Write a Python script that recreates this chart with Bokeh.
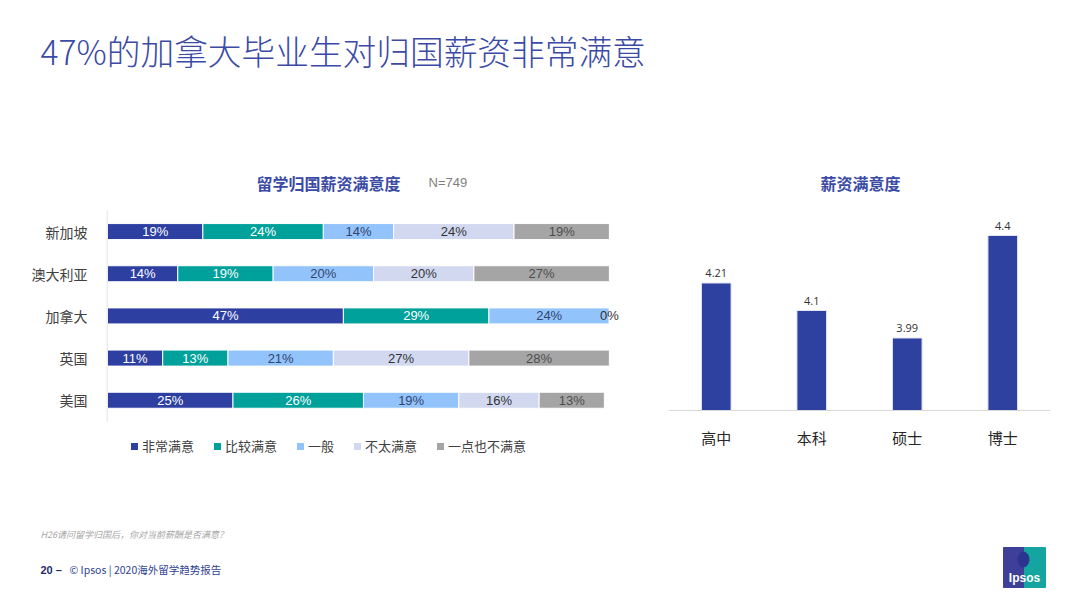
from bokeh.plotting import figure
from bokeh.models import Range1d, FactorRange, ColumnDataSource, Legend, LegendItem, Span
from bokeh.layouts import column, row
from bokeh.embed import file_html
from bokeh.resources import INLINE
from bokeh.core.properties import value

# ---------------- data ----------------
title_text = "47%的加拿大毕业生对归国薪资非常满意"
left_title = "留学归国薪资满意度"
sample_note = "N=749"
right_title = "薪资满意度"

countries = ["新加坡", "澳大利亚", "加拿大", "英国", "美国"]
levels_sat = ["非常满意", "比较满意", "一般", "不太满意", "一点也不满意"]
very_satisfied = [19, 14, 47, 11, 25]
fairly_satisfied = [24, 19, 29, 13, 26]
neutral = [14, 20, 24, 21, 19]
not_very = [24, 20, 0, 27, 16]
not_at_all = [19, 27, 0, 28, 13]

degrees = ["高中", "本科", "硕士", "博士"]
degree_scores = [4.21, 4.1, 3.99, 4.4]
score_base = 3.7
score_top = 4.5

footnote = "H26请问留学归国后，你对当前薪酬是否满意？"
footer_page = "20"
footer_text = "© Ipsos | 2020海外留学趋势报告"

# ---------------- styles ----------------
CJK = "Noto Sans CJK SC"
CJK_LIGHT = "Noto Sans CJK SC Light, Noto Sans CJK SC"
NUM = "Liberation Sans"
BLUE_TITLE = "#3B4BA5"
seg_colors = ["#2E3FA2", "#00A09B", "#92C3FA", "#D1D8F0", "#A5A5A5"]
seg_text_colors = ["white", "white", "#34446E", "#333333", "#4D4D4D"]

W = 1076
ROW_H = 270
TOP_B = 10
BOT_B = 7
FRAME_H = ROW_H - TOP_B - BOT_B   # 253


def blank(w, h):
    f = figure(width=w, height=h, x_range=Range1d(0, w), y_range=Range1d(h, 0),
               output_backend="svg", toolbar_location=None, min_border=0)
    f.axis.visible = False
    f.grid.visible = False
    f.outline_line_color = None
    return f


# ---------------- header ----------------
header = blank(W, 200)
header.text(x=[40], y=[50], text=[title_text], text_font=value(CJK_LIGHT), text_font_size="33.7px",
            text_color=BLUE_TITLE, text_baseline="middle", text_align="left")
header.text(x=[328], y=[182], text=[left_title], text_font=value(CJK), text_font_size="16px",
            text_font_style="bold", text_color=BLUE_TITLE, text_baseline="middle", text_align="center")
header.text(x=[428], y=[182], text=[sample_note], text_font=value(NUM), text_font_size="13px",
            text_color="#7F7F7F", text_baseline="middle", text_align="left")
header.text(x=[860], y=[182], text=[right_title], text_font=value(CJK), text_font_size="16px",
            text_font_style="bold", text_color=BLUE_TITLE, text_baseline="middle", text_align="center")

# ---------------- left stacked bar chart ----------------
src = ColumnDataSource(data={
    "country": countries,
    levels_sat[0]: very_satisfied,
    levels_sat[1]: fairly_satisfied,
    levels_sat[2]: neutral,
    levels_sat[3]: not_very,
    levels_sat[4]: not_at_all,
})

# one blank band below the countries holds the legend
pad_factor = [" "]
left = figure(width=640, height=ROW_H, y_range=FactorRange(factors=pad_factor + countries[::-1]),
              x_range=Range1d(-0.2, 106), output_backend="svg", toolbar_location=None,
              min_border_left=106, min_border_right=1, min_border_top=TOP_B, min_border_bottom=BOT_B)
rends = left.hbar_stack(levels_sat, y="country", height=0.38, color=seg_colors, source=src,
                        line_color="white", line_width=1)

series = [very_satisfied, fairly_satisfied, neutral, not_very, not_at_all]
lx, ly, lt, lc = [], [], [], []
for i, c in enumerate(countries):
    edge = 0
    zero_done = False
    for s, tc in zip(series, seg_text_colors):
        v = s[i]
        if v > 0 or not zero_done:
            lx.append(edge + v / 2)
            ly.append(c)
            lt.append(f"{v}%")
            lc.append(tc if v > 0 else "#333333")
            if v == 0:
                zero_done = True
        edge += v
left.text(x="x", y="y", text="t", text_color="c",
          source=ColumnDataSource(data={"x": lx, "y": ly, "t": lt, "c": lc}),
          text_align="center", text_baseline="middle", text_font_size="13px",
          text_font=value(NUM))

# category axis line, spanning only the country bands
left.segment(x0=[-0.1], x1=[-0.1], y0=[len(pad_factor)], y1=[len(pad_factor) + len(countries)],
             line_color="#D9D9D9", line_width=1)

left.xaxis.visible = False
left.grid.visible = False
left.outline_line_color = None
left.yaxis.axis_line_color = None
left.yaxis.major_tick_line_color = None
left.yaxis.minor_tick_line_color = None
left.yaxis.major_label_standoff = 13
left.yaxis.major_label_text_font = CJK
left.yaxis.major_label_text_font_size = "14px"
left.yaxis.major_label_text_color = "#404040"

legend = Legend(items=[LegendItem(label=l, renderers=[r]) for l, r in zip(levels_sat, rends)],
                location=(23, 8), orientation="horizontal", glyph_width=10, glyph_height=10,
                label_standoff=3, spacing=18, padding=0, margin=0, border_line_color=None,
                background_fill_alpha=0, label_text_font_size="13px", label_text_font=CJK,
                label_text_color="#404040", label_height=14)
left.add_layout(legend, "center")

# ---------------- right bar chart ----------------
px_per_unit = 250.0   # baseline-to-top spacing: 200 px for 0.8 units
right = figure(width=W - 640, height=ROW_H, x_range=FactorRange(factors=degrees),
               y_range=Range1d(score_base - (FRAME_H - 200) / px_per_unit, score_top),
               output_backend="svg", toolbar_location=None,
               min_border_left=28, min_border_right=W - 640 - 28 - 382,
               min_border_top=TOP_B, min_border_bottom=BOT_B)
right.vbar(x=degrees, top=degree_scores, bottom=score_base, width=0.31, color="#2E40A0",
           line_color="#E0E4F4")
right.text(x=degrees, y=degree_scores, text=[str(v) for v in degree_scores],
           text_align="center", text_baseline="bottom", y_offset=-6, text_font_size="11px",
           text_font=value("Open Sans"), text_color="#333333")
# category baseline and labels
right.add_layout(Span(location=score_base, dimension="width", line_color="#D9D9D9", line_width=1))
right.text(x=degrees, y=[score_base] * len(degrees), text=degrees, text_align="center",
           text_baseline="middle", y_offset=27, text_font_size="15px", text_font=value(CJK),
           text_color="#262626")
right.axis.visible = False
right.grid.visible = False
right.outline_line_color = None

# ---------------- footer ----------------
footer = blank(W, 128)
footer.text(x=[40], y=[64], text=[footnote], text_font=value(CJK), text_font_size="9px",
            text_font_style="italic", text_color="#A6A6A6", text_baseline="middle")
footer.text(x=[40], y=[99], text=[footer_page + " –"], text_font=value(NUM), text_font_size="11px",
            text_font_style="bold", text_color="#1F2A6B", text_baseline="middle")
footer.text(x=[69], y=[99], text=[footer_text], text_font=value(CJK), text_font_size="10.5px",
            text_color="#2F3F8F", text_baseline="middle")
# logo
footer.quad(left=[1003], right=[1024], top=[77], bottom=[117], color="#3D3F98")
footer.quad(left=[1024], right=[1045], top=[77], bottom=[117], color="#14A5A0")
footer.ellipse(x=[1023], y=[89], width=11, height=15, color="#2B3590")
footer.text(x=[1024], y=[107], text=["Ipsos"], text_font=value(NUM), text_font_size="12px",
            text_font_style="bold", text_color="white", text_align="center", text_baseline="middle")

layout = column(header, row(left, right), footer)
open("out.html", "w").write(file_html(layout, INLINE))
